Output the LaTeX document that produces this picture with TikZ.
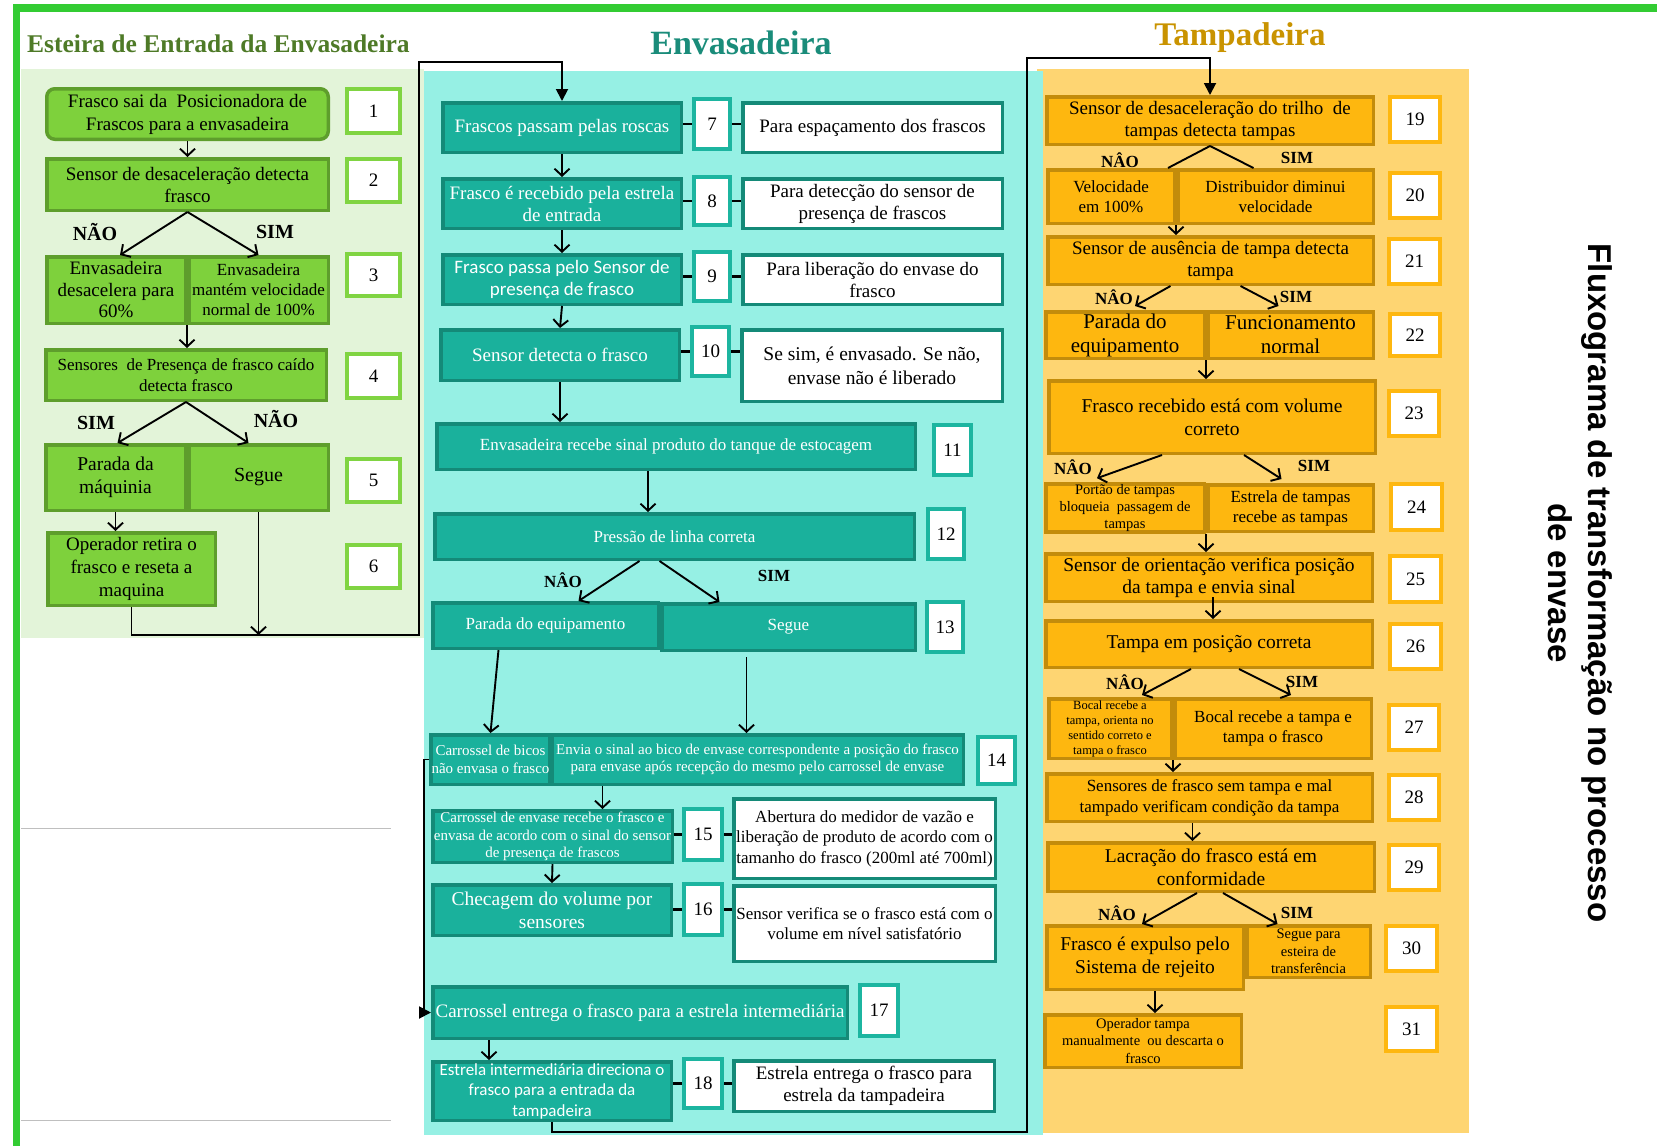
\documentclass[tikz,border=0pt]{standalone}
\usepackage{fontspec}
\setmainfont{Liberation Serif}
\newfontfamily\calfont{Carlito}
\newfontfamily\headsans{Liberation Sans}
\usetikzlibrary{arrows.meta}

\definecolor{frameG}{HTML}{33CC33}
\definecolor{panelG}{HTML}{E3F4D9}
\definecolor{boxGF}{HTML}{7ED13C}
\definecolor{boxGB}{HTML}{5E9E2C}
\definecolor{numG}{HTML}{80D442}
\definecolor{titleG}{HTML}{4E7A27}
\definecolor{panelC}{HTML}{96F0E4}
\definecolor{boxTF}{HTML}{1AB19C}
\definecolor{boxTB}{HTML}{148A78}
\definecolor{numT}{HTML}{1CB5A0}
\definecolor{titleT}{HTML}{1A8C7A}
\definecolor{panelO}{HTML}{FED572}
\definecolor{boxOF}{HTML}{FEB70F}
\definecolor{boxOB}{HTML}{C38C0B}
\definecolor{numO}{HTML}{FEB70F}
\definecolor{titleO}{HTML}{C99300}

% box placed by its outer corners: style, name, x1, y1, x2, y2, text
\newcommand\flowbox[7]{%
  \pgfmathsetmacro\bxw{#5-#3-3.5}%
  \pgfmathsetmacro\bxh{#6-#4-3.5}%
  \pgfmathsetmacro\bxx{(#3+#5)/2}%
  \pgfmathsetmacro\bxy{(#4+#6)/2}%
  \node[#1, minimum width=\bxw pt, minimum height=\bxh pt] (#2) at (\bxx,\bxy) {#7};}

\tikzset{
  fz/.style 2 args={font=\fontsize{#1}{#2}\selectfont},
  cal/.style 2 args={font=\calfont\fontsize{#1}{#2}\selectfont},
  base/.style={inner sep=0.5pt, align=center, line width=3.5pt},
  gbox/.style={base, draw=boxGB, fill=boxGF, text=black},
  tbox/.style={base, draw=boxTB, fill=boxTF, text=white},
  dbox/.style={base, draw=boxTB, fill=white, text=black},
  obox/.style={base, draw=boxOB, fill=boxOF, text=black},
  gnum/.style={base, line width=4pt, draw=numG, fill=white, fz={19}{22}},
  tnum/.style={base, line width=4pt, draw=numT, fill=white, fz={19}{22}},
  onum/.style={base, line width=4pt, draw=numO, fill=white, fz={19}{22}},
  lbl/.style={font=\bfseries\fontsize{#1}{#1}\selectfont, inner sep=0pt},
  arr/.style={line width=1.9pt, -{Straight Barb[length=7pt,width=15pt]}},
  arrF/.style={line width=1.9pt, -{Triangle[length=12pt,width=12pt]}},
  ln/.style={line width=1.9pt},
  tick/.style={line width=2.5pt},
}

\begin{document}
\begin{tikzpicture}[x=1pt,y=-1pt]
\useasboundingbox (0,0) rectangle (1657,1146);

% frame and section backgrounds
\fill[frameG] (13,4) rectangle (1657,12);
\fill[frameG] (13,4) rectangle (20,1146);
\fill[panelG] (21,69) rectangle (424,638);
\fill[panelO] (1037,69) rectangle (1469,1133);
\fill[panelC] (424,71) rectangle (1043,1135);
\draw[black!25, line width=0.8pt] (21,828) -- (391,828);
\draw[black!25, line width=0.8pt] (21,1120) -- (391,1120);

% section titles
\node[font=\bfseries\fontsize{25.5}{30}\selectfont, text=titleG, anchor=base west, inner sep=0pt] (tEsteira) at (27,52) {Esteira de Entrada da Envasadeira};
\node[font=\bfseries\fontsize{34}{40}\selectfont, text=titleT, anchor=base, inner sep=0pt] (tEnvas) at (741,54) {Envasadeira};
\node[font=\bfseries\fontsize{33}{40}\selectfont, text=titleO, anchor=base, inner sep=0pt] (tTampa) at (1240,45) {Tampadeira};
\node[rotate=-90, font=\headsans\bfseries\fontsize{33}{40}\selectfont, align=center, inner sep=0pt] (tFluxo) at (1580,583) {Fluxograma de transformação no processo\\de envase};

% ---------- Esteira de entrada ----------
\flowbox{gbox,rounded corners=8pt,fz={19}{23}}{b1}{45}{87}{330}{141}{Frasco sai da\ \ Posicionadora de\\Frascos para a envasadeira}
\flowbox{gnum}{n1}{345}{87}{402}{135}{1}
\flowbox{gbox,fz={19}{22}}{b2}{45}{157}{330}{212}{Sensor de desaceleração detecta\\frasco}
\flowbox{gnum}{n2}{345}{157}{402}{204}{2}
\flowbox{gbox,fz={19}{21.5}}{b3l}{45}{255}{187}{325}{Envasadeira\\desacelera para\\60\%}
\flowbox{gbox,fz={17}{20}}{b3r}{187}{255}{330}{325}{Envasadeira\\mantém velocidade\\normal de 100\%}
\flowbox{gnum}{n3}{345}{252}{402}{298}{3}
\flowbox{gbox,fz={17}{21}}{b4}{44}{348}{328}{402}{Sensores\ \ de Presença de frasco caído\\detecta frasco}
\flowbox{gnum}{n4}{345}{352}{402}{400}{4}
\flowbox{gbox,fz={19.5}{23}}{b5l}{44}{443}{187}{512}{Parada da\\máquinia}
\flowbox{gbox,fz={20}{23}}{b5r}{187}{443}{330}{512}{Segue}
\flowbox{gnum}{n5}{345}{457}{402}{504}{5}
\flowbox{gbox,fz={19}{23}}{b6}{46}{531}{217}{607}{Operador retira o\\frasco e reseta a\\maquina}
\flowbox{gnum}{n6}{345}{543}{402}{590}{6}

\node[lbl=20] (l2n) at (95,232) {NÃO};
\node[lbl=20] (l2s) at (275,232) {SIM};
\node[lbl=20] (l4s) at (96,423) {SIM};
\node[lbl=20] (l4n) at (276,419) {NÃO};

\coordinate (cLB) at (419,635);
\coordinate (cLT) at (419,62);

\draw[arr] (b1.south) -- (b2.north);
\draw[arr] (b2.south) -- ([xshift=4pt]b3l.north);
\draw[arr] (b2.south) -- (b3r.north);
\draw[arr] (b3l.south east) -- (b3l.south east |- b4.north);
\draw[arr] (b4.south) -- ([xshift=2pt]b5l.north);
\draw[arr] (b4.south) -- ([xshift=-10pt]b5r.north);
\draw[arr] (b5l.south) -- (b5l.south |- b6.north);
\draw[arr] (b5r.south) -- (b5r.south |- cLB);

% ---------- Envasadeira ----------
\flowbox{tbox,fz={19}{22}}{b7}{441}{101}{683}{154}{Frascos passam pelas roscas}
\flowbox{tnum}{n7}{692}{97}{732}{151}{7}
\flowbox{dbox,fz={19}{22}}{d7}{741}{101}{1004}{154}{Para espaçamento dos frascos}
\flowbox{tbox,fz={19}{22}}{b8}{441}{177}{683}{230}{Frasco é recebido pela estrela\\de entrada}
\flowbox{tnum}{n8}{692}{175}{732}{227}{8}
\flowbox{dbox,fz={19}{22}}{d8}{741}{177}{1004}{230}{Para detecção do sensor de\\presença de frascos}
\flowbox{tbox,cal={19}{22}}{b9}{441}{253}{683}{306}{Frasco passa pelo Sensor de\\presença de frasco}
\flowbox{tnum}{n9}{692}{250}{732}{303}{9}
\flowbox{dbox,fz={19}{22}}{d9}{741}{253}{1004}{306}{Para liberação do envase do\\frasco}
\flowbox{tbox,fz={19}{22}}{b10}{439}{328}{681}{382}{Sensor detecta o frasco}
\flowbox{tnum}{n10}{690}{325}{731}{378}{10}
\flowbox{dbox,fz={19.5}{24}}{d10}{740}{328}{1004}{403}{Se sim, é envasado. Se não,\\envase não é liberado}
\flowbox{tbox,fz={17}{20}}{b11}{435}{422}{917}{471}{Envasadeira recebe sinal produto do tanque de estocagem}
\flowbox{tnum}{n11}{932}{423}{973}{477}{11}
\flowbox{tbox,fz={17}{20}}{b12}{433}{512}{916}{561}{Pressão de linha correta}
\flowbox{tnum}{n12}{926}{507}{966}{561}{12}
\flowbox{tbox,fz={17}{20}}{b13l}{431}{601}{660}{650}{Parada do equipamento}
\flowbox{tbox,fz={17}{20}}{b13r}{660}{602}{917}{652}{Segue}
\flowbox{tnum}{n13}{925}{600}{965}{654}{13}
\flowbox{tbox,fz={15}{17.5}}{b14l}{431}{733}{550}{786}{Carrossel de bicos\\não envasa o frasco}
\flowbox{tbox,fz={15}{17.5}}{b14r}{550}{733}{965}{786}{Envia o sinal ao bico de envase correspondente a posição do frasco\\para envase após recepção do mesmo pelo carrossel de envase}
\flowbox{tnum}{n14}{976}{735}{1017}{786}{14}
\flowbox{tbox,fz={15}{17.5}}{b15}{431}{809}{674}{864}{Carrossel de envase recebe o frasco e\\envasa de acordo com o sinal do sensor\\de presença de frascos}
\flowbox{tnum}{n15}{682}{807}{724}{862}{15}
\flowbox{dbox,fz={17}{20.5}}{d15}{732}{797}{997}{880}{Abertura do medidor de vazão e\\liberação de produto de acordo com o\\tamanho do frasco (200ml até 700ml)}
\flowbox{tbox,fz={19.5}{23}}{b16}{431}{883}{673}{937}{Checagem do volume por\\sensores}
\flowbox{tnum}{n16}{682}{882}{724}{937}{16}
\flowbox{dbox,fz={17}{20}}{d16}{732}{884}{997}{963}{Sensor verifica se o frasco está com o\\volume em nível satisfatório}
\flowbox{tbox,fz={19}{22}}{b17}{431}{985}{849}{1040}{Carrossel entrega o frasco para a estrela intermediária}
\flowbox{tnum}{n17}{858}{983}{900}{1038}{17}
\flowbox{tbox,cal={17}{20.5}}{b18}{431}{1060}{673}{1122}{Estrela intermediária direciona o\\frasco para a entrada da\\tampadeira}
\flowbox{tnum}{n18}{682}{1057}{724}{1110}{18}
\flowbox{dbox,fz={19}{22}}{d18}{732}{1059}{996}{1113}{Estrela entrega o frasco para\\estrela da tampadeira}

\node[lbl=17] (l12n) at (563,580) {NÂO};
\node[lbl=17] (l12s) at (774,576) {SIM};

\foreach \k in {7,8,9,10,15,16,18}{
  \draw[tick] (b\k.east |- n\k.west) -- (n\k.west);
  \draw[tick] (n\k.east) -- (d\k.west |- n\k.east);
}

% line from the entry conveyor into the filler
\draw[arrF] (b6.south) |- (cLB) -- (cLT) -| (b7.north);

\draw[arr] (b7.south) -- (b8.north);
\draw[arr] (b8.south) -- (b9.north);
\draw[arr] (b9.south) -- (b10.north);
\draw[arr] (b10.south) -- (b10.south |- b11.north);
\draw[arr] ([xshift=-28pt]b11.south) -- ([xshift=-28pt]b11.south |- b12.north);
\draw[arr] ([xshift=-35pt]b12.south) -- ([xshift=33pt]b13l.north);
\draw[arr] ([xshift=-15pt]b12.south) -- ([xshift=-69pt]b13r.north);
\draw[arr] ([xshift=-47pt]b13l.south) -- (b14l.north);
\draw[arr] ([xshift=-42pt,yshift=-5pt]b13r.south) -- ([xshift=-42pt]b13r.south |- b14r.north);
\draw[arr] ([xshift=50pt]b15.north |- b14r.south) -- ([xshift=50pt]b15.north);
\draw[arr] (b15.south) -- (b16.north);
\draw[arrF] (b14l.west) -- ++(-5,0) |- (b17.west);
\draw[arr] ([xshift=-63pt]b18.north |- b17.south) -- ([xshift=-63pt]b18.north);

% ---------- Tampadeira ----------
\flowbox{obox,fz={19}{22}}{b19}{1045}{95}{1375}{146}{Sensor de desaceleração do trilho\ \ de\\tampas detecta tampas}
\flowbox{onum}{n19}{1388}{95}{1442}{144}{19}
\flowbox{obox,fz={17}{20}}{b20l}{1046}{168}{1176}{225}{Velocidade\\em 100\%}
\flowbox{obox,fz={17}{20}}{b20r}{1176}{168}{1375}{225}{Distribuidor diminui\\velocidade}
\flowbox{onum}{n20}{1388}{171}{1442}{220}{20}
\flowbox{obox,fz={19}{22}}{b21}{1046}{235}{1375}{286}{Sensor de ausência de tampa detecta\\tampa}
\flowbox{onum}{n21}{1387}{237}{1442}{286}{21}
\flowbox{obox,fz={21}{24}}{b22l}{1044}{310}{1206}{360}{Parada do\\equipamento}
\flowbox{obox,fz={21}{24}}{b22r}{1206}{310}{1375}{360}{Funcionamento\\normal}
\flowbox{onum}{n22}{1388}{312}{1442}{358}{22}
\flowbox{obox,fz={19.5}{23}}{b23}{1047}{379}{1377}{455}{Frasco recebido está com volume\\correto}
\flowbox{onum}{n23}{1387}{389}{1441}{438}{23}
\flowbox{obox,fz={14.5}{17}}{b24l}{1044}{483}{1206}{533}{Portão de tampas\\bloqueia\ \ passagem de\\tampas}
\flowbox{obox,fz={17}{20}}{b24r}{1206}{483}{1375}{533}{Estrela de tampas\\recebe as tampas}
\flowbox{onum}{n24}{1389}{482}{1444}{532}{24}
\flowbox{obox,fz={19.5}{22.5}}{b25}{1044}{552}{1374}{603}{Sensor de orientação verifica posição\\da tampa e envia sinal}
\flowbox{onum}{n25}{1388}{554}{1443}{604}{25}
\flowbox{obox,fz={19.5}{22}}{b26}{1044}{619}{1374}{669}{Tampa em posição correta}
\flowbox{onum}{n26}{1388}{622}{1443}{671}{26}
\flowbox{obox,fz={12.5}{15}}{b27l}{1047}{697}{1173}{760}{Bocal recebe a\\tampa, orienta no\\sentido correto e\\tampa o frasco}
\flowbox{obox,fz={17}{20}}{b27r}{1173}{697}{1373}{760}{Bocal recebe a tampa e\\tampa o frasco}
\flowbox{onum}{n27}{1387}{703}{1441}{752}{27}
\flowbox{obox,fz={17}{21}}{b28}{1045}{772}{1374}{823}{Sensores de frasco sem tampa e mal\\tampado verificam condição da tampa}
\flowbox{onum}{n28}{1387}{773}{1441}{822}{28}
\flowbox{obox,fz={19.5}{23}}{b29}{1046}{841}{1376}{893}{Lacração do frasco está em\\conformidade}
\flowbox{onum}{n29}{1387}{843}{1441}{892}{29}
\flowbox{obox,fz={19.5}{23}}{b30l}{1045}{924}{1245}{991}{Frasco é expulso pelo\\Sistema de rejeito}
\flowbox{obox,fz={14.5}{17.5}}{b30r}{1245}{924}{1372}{979}{Segue para\\esteira de\\transferência}
\flowbox{onum}{n30}{1384}{924}{1439}{973}{30}
\flowbox{obox,fz={14.5}{17.5}}{b31}{1043}{1013}{1243}{1069}{Operador tampa\\manualmente\ \ ou descarta o\\frasco}
\flowbox{onum}{n31}{1384}{1005}{1439}{1053}{31}

\node[lbl=17] (l19n) at (1120,160) {NÂO};
\node[lbl=17] (l19s) at (1297,158) {SIM};
\node[lbl=17] (l21n) at (1114,297) {NÂO};
\node[lbl=17] (l21s) at (1296,297) {SIM};
\node[lbl=17] (l23n) at (1073,467) {NÂO};
\node[lbl=17] (l23s) at (1314,466) {SIM};
\node[lbl=17] (l26n) at (1125,682) {NÂO};
\node[lbl=17] (l26s) at (1302,682) {SIM};
\node[lbl=17] (l29n) at (1117,913) {NÂO};
\node[lbl=17] (l29s) at (1297,913) {SIM};

% line from the filler into the capper
\coordinate (cMB) at (1027,1132);
\coordinate (cMT) at (1027,58);
\draw[arrF] (b18.south) |- (cMB) -- (cMT) -| (b19.north);

\draw[ln] (b19.south) -- ([xshift=57pt]b20l.north);
\draw[ln] (b19.south) -- ([xshift=-22pt]b20r.north);
\draw[arr] (b20l.south east) -- (b20l.south east |- b21.north);
\draw[arr] ([xshift=-40pt]b21.south) -- ([xshift=10pt,yshift=4pt]b22l.north);
\draw[arr] ([xshift=30pt]b21.south) -- ([xshift=-12pt,yshift=4pt]b22r.north);
\draw[arr] (b22l.south east) -- (b22l.south east |- b23.north);
\draw[arr] ([xshift=-50pt]b23.south) -- ([xshift=-28pt,yshift=4pt]b24l.north);
\draw[arr] ([xshift=32pt]b23.south) -- ([xshift=-9pt,yshift=4pt]b24r.north);
\draw[arr] (b24l.south east) -- (b24l.south east |- b25.north);
\draw[arr] ([xshift=4pt,yshift=6pt]b25.south) -- ([xshift=4pt]b26.north);
\draw[arr] ([xshift=-18pt]b26.south) -- ([xshift=32pt,yshift=2pt]b27l.north);
\draw[arr] ([xshift=30pt]b26.south) -- ([xshift=18pt,yshift=2pt]b27r.north);
\draw[arr] (b27l.south east) -- (b27l.south east |- b28.north);
\draw[arr] ([xshift=-17pt]b28.south) -- ([xshift=-17pt]b28.south |- b29.north);
\draw[arr] ([xshift=-14pt]b29.south) -- ([xshift=-3pt]b30l.north);
\draw[arr] ([xshift=12pt]b29.south) -- ([xshift=-31pt]b30r.north);
\draw[arr] ([xshift=10pt]b30l.south) -- ([xshift=10pt]b30l.south |- b31.north);
\end{tikzpicture}
\end{document}
